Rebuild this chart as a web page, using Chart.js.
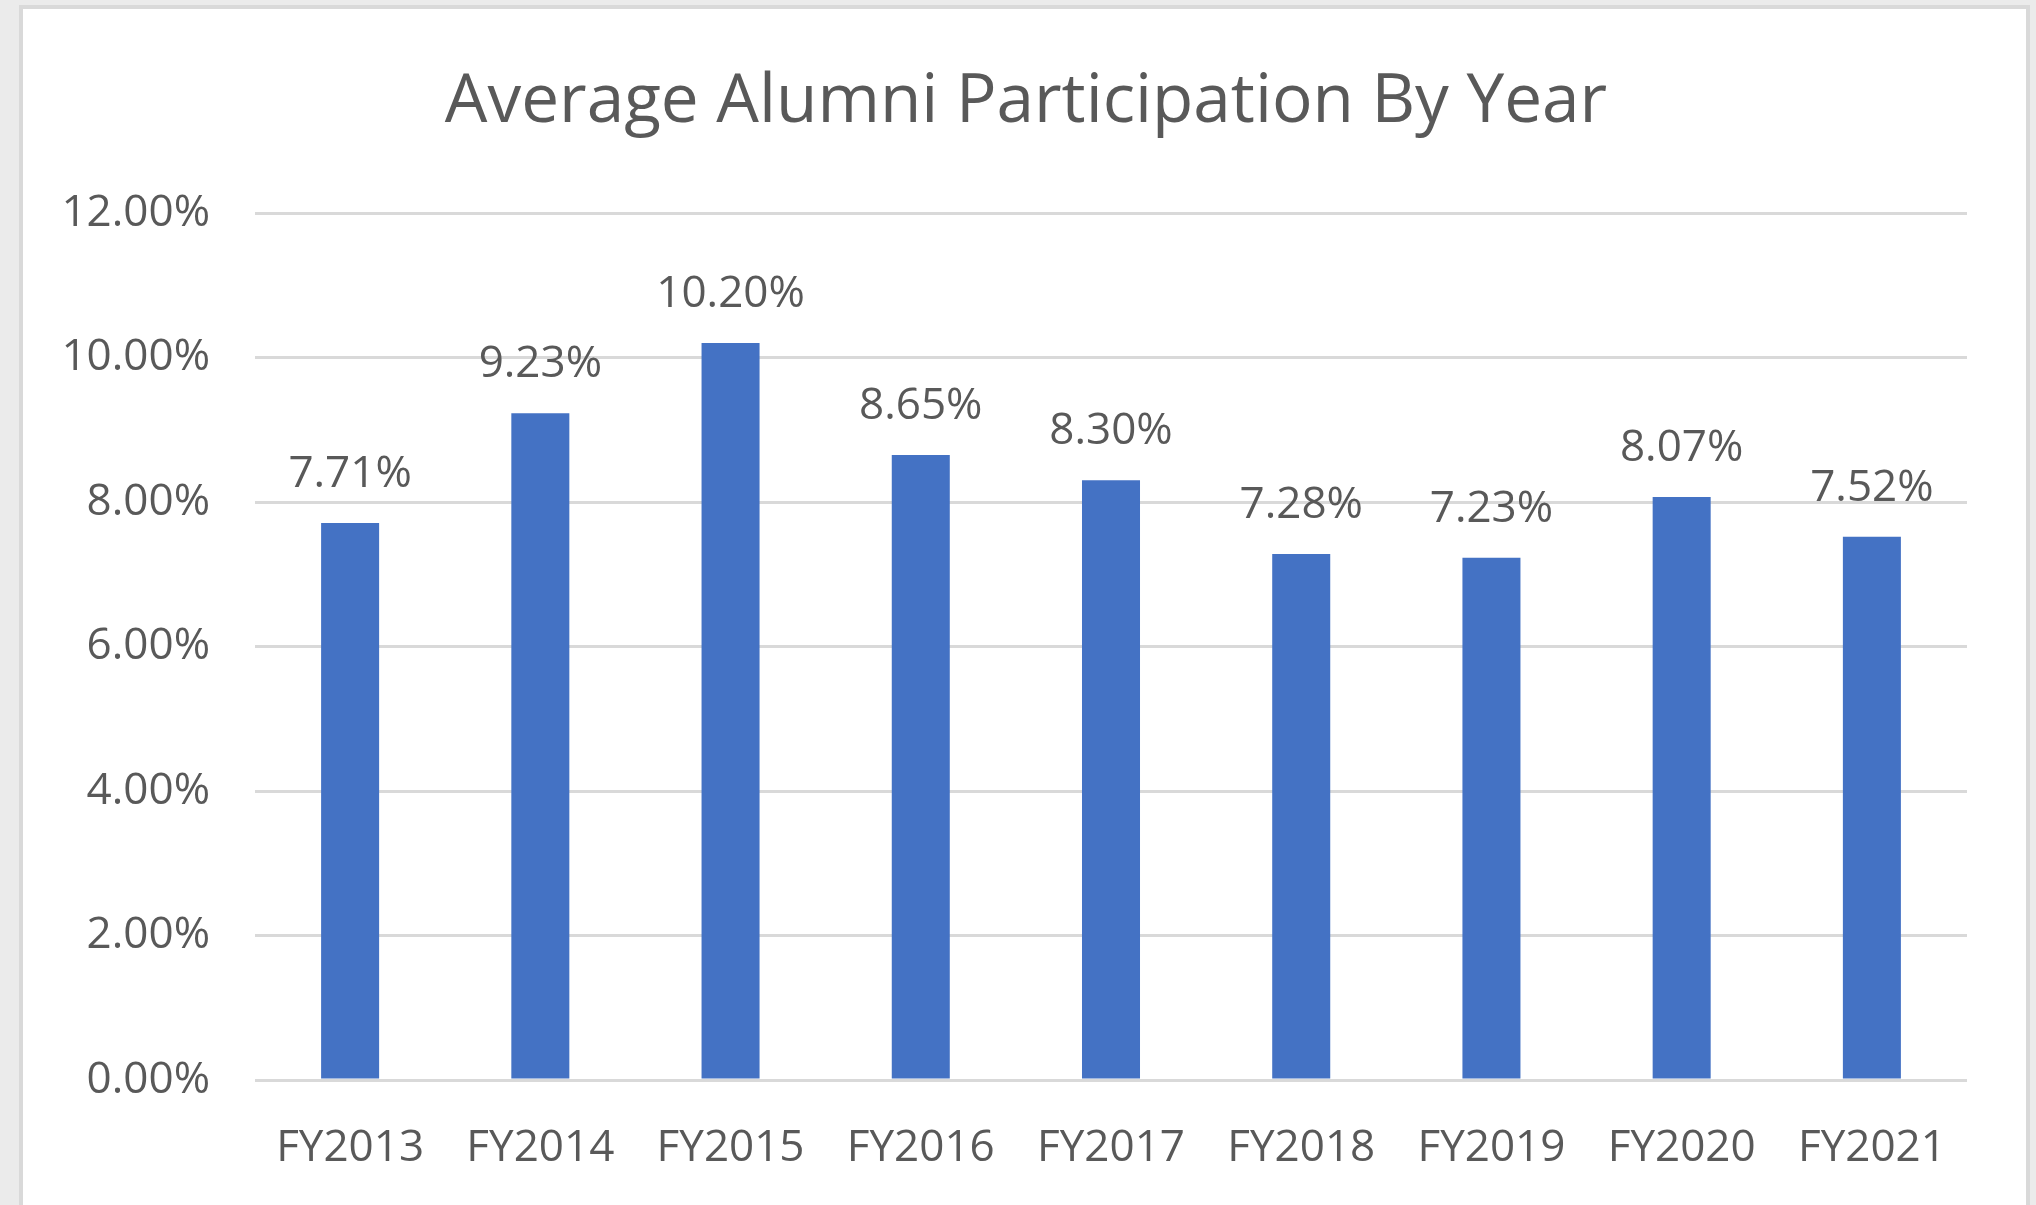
<!DOCTYPE html>
<html>
<head>
<meta charset="utf-8">
<script src="https://cdn.jsdelivr.net/npm/chart.js@4"></script>
<style>
  html, body { margin: 0; padding: 0; background: #ebebeb; overflow: hidden; }
  .frame {
    position: absolute; left: 19px; top: 5px; width: 2003px; height: 1220px;
    background: #fff; border: 4px solid #d9d9d9; border-bottom: none;
  }
  #chart { position: absolute; left: 0; top: 0; }
</style>
</head>
<body>
<div class="frame"></div>
<canvas id="chart" width="2036" height="1205"></canvas>
<script>
const years = ['FY2013', 'FY2014', 'FY2015', 'FY2016', 'FY2017', 'FY2018', 'FY2019', 'FY2020', 'FY2021'];
const participation = [7.71, 9.23, 10.20, 8.65, 8.30, 7.28, 7.23, 8.07, 7.52];
const yTicks = [0, 2, 4, 6, 8, 10, 12];
const chartTitle = 'Average Alumni Participation By Year';

const textColor = '#595959';
const fontFamily = '"Open Sans", "Noto Sans", sans-serif';

// value labels above the bars
const barLabels = {
    id: 'barLabels',
    afterDatasetsDraw(chart) {
        const ctx = chart.ctx;
        const meta = chart.getDatasetMeta(0);
        ctx.save();
        ctx.font = '44px ' + fontFamily;
        ctx.fillStyle = textColor;
        ctx.textAlign = 'center';
        ctx.textBaseline = 'alphabetic';
        meta.data.forEach((bar, i) => {
            ctx.fillText(participation[i].toFixed(2) + '%', bar.x, bar.y - 36);
        });
        ctx.restore();
    }
};

// title centred on the white frame, not on the plot
const frameTitle = {
    id: 'frameTitle',
    afterDraw(chart) {
        const ctx = chart.ctx;
        ctx.save();
        ctx.font = '67.5px ' + fontFamily;
        ctx.fillStyle = textColor;
        ctx.textAlign = 'center';
        ctx.textBaseline = 'alphabetic';
        ctx.fillText(chartTitle, 1026, 122);
        ctx.restore();
    }
};

const ctxChart = document.getElementById('chart').getContext('2d');
const chart = new Chart(ctxChart, {
    type: 'bar',
    data: {
        labels: years,
        datasets: [{
            label: 'Average Alumni Participation',
            data: participation,
            backgroundColor: '#4472c4',
            categoryPercentage: 1,
            barPercentage: 0.305
        }]
    },
    options: {
        responsive: false,
        animation: false,
        layout: { padding: { left: 0, right: 69, top: 213, bottom: 0 } },
        scales: {
            y: {
                min: 0,
                max: 12,
                afterBuildTicks: (scale) => { scale.ticks = yTicks.map(v => ({ value: v })); },
                afterFit: (scale) => { scale.width = 255; },
                ticks: {
                    padding: 45,
                    color: textColor,
                    font: { family: fontFamily, size: 44 },
                    callback: (v) => v.toFixed(2) + '%'
                },
                grid: { color: '#d9d9d9', lineWidth: 3, drawTicks: false },
                border: { display: false }
            },
            x: {
                afterFit: (scale) => { scale.height = 125; },
                ticks: {
                    padding: 34,
                    color: textColor,
                    font: { family: fontFamily, size: 44 }
                },
                grid: { display: false },
                border: { display: false }
            }
        },
        plugins: {
            legend: { display: false },
            tooltip: { enabled: false },
            title: { display: false }
        }
    },
    plugins: [barLabels, frameTitle]
});
</script>
</body>
</html>
